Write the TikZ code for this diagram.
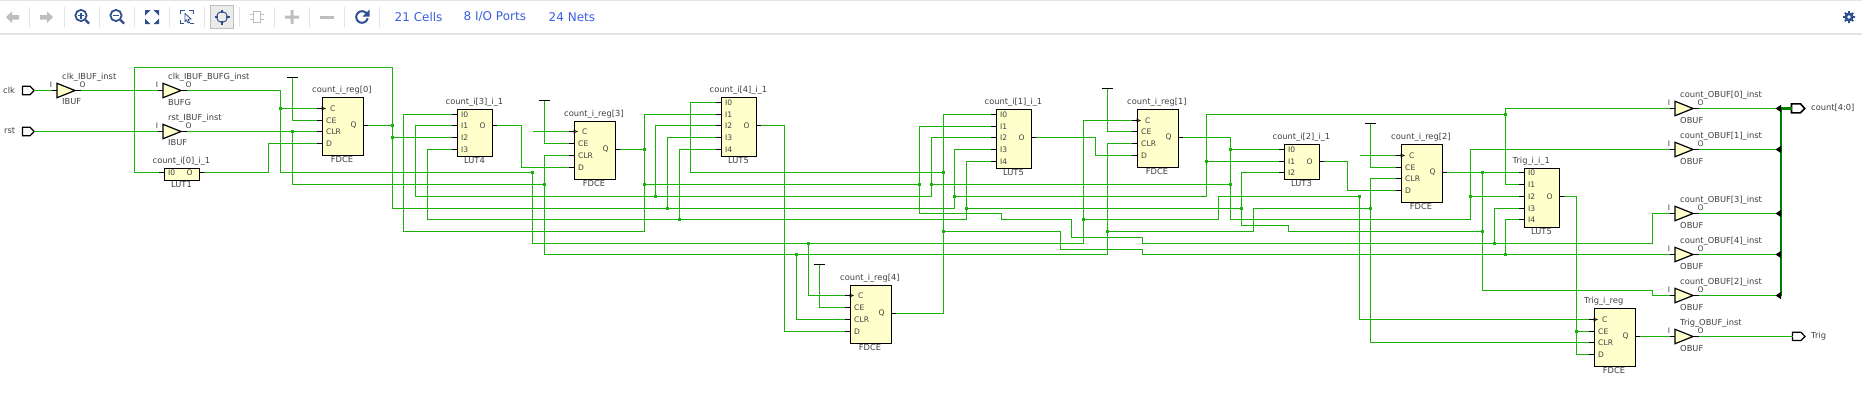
\documentclass[tikz,border=0pt]{standalone}
\usepackage{fontspec}
\setmainfont{DejaVu Sans}
\definecolor{wirecol}{RGB}{26,178,10}
\definecolor{buscol}{RGB}{0,128,0}
\definecolor{cellfill}{RGB}{255,255,204}
\definecolor{txtcol}{RGB}{64,64,64}
\definecolor{tbblue}{RGB}{47,79,143}
\definecolor{tbgray}{RGB}{190,190,190}
\definecolor{tbline}{RGB}{228,228,228}
\definecolor{tblink}{RGB}{59,95,224}
\tikzset{
  wire/.style={draw=wirecol,line width=1.25pt,line join=miter},
  stub/.style={draw=black,line width=1.2pt},
  cellbox/.style={draw=black,line width=1.2pt,fill=cellfill,rectangle,anchor=north west,inner sep=0pt},
  buftri/.style={draw=black,line width=1.2pt,fill=cellfill,line join=miter},
  lbl/.style={font=\fontsize{8.3}{10}\selectfont,text=txtcol,inner sep=0pt},
  lblw/.style={lbl,anchor=west},
  pinlbl/.style={font=\fontsize{7.6}{9}\selectfont,text=txtcol,inner sep=0pt},
  pinw/.style={pinlbl,anchor=west},
  tblnk/.style={font=\fontsize{12}{14}\selectfont,text=tblink,inner sep=0pt,anchor=west},
  tbsep/.style={draw=tbline,line width=1pt},
  tbdark/.style={draw=tbblue,line width=1.8pt},
}
% name, x, top, label, yC, yCE, yCLR, yD, yQ
\newcommand\ffcell[9]{%
  \node[cellbox,minimum width=41pt,minimum height=58pt] (#1) at (#2,#3) {};
  \node[lblw] (#1l) at (#2-9.5,#3-6.5) {#4};
  \node[lbl] (#1t) at (#2+20.5,#3+62.5) {FDCE};
  \coordinate (#1C) at (#2-5,#5);
  \coordinate (#1CE) at (#2-5,#6);
  \coordinate (#1CLR) at (#2-5,#7);
  \coordinate (#1D) at (#2-5,#8);
  \coordinate (#1Q) at (#2+46,#9);
  \draw[stub] (#1C) -- (#2,#5);
  \draw[stub] (#1CE) -- (#2,#6);
  \draw[stub] (#1CLR) -- (#2,#7);
  \draw[stub] (#1D) -- (#2,#8);
  \draw[stub] (#2+41,#9) -- (#1Q);
  \draw[draw=black,line width=.7pt] (#2,#5-1.6) -- (#2+3.5,#5) -- (#2,#5+1.6);
  \node[pinw] (#1pC) at (#2+8.5,#5) {C};
  \node[pinw] (#1pCE) at (#2+4.5,#6) {CE};
  \node[pinw] (#1pCLR) at (#2+4.5,#7) {CLR};
  \node[pinw] (#1pD) at (#2+4.5,#8) {D};
  \node[pinlbl] (#1pQ) at (#2+32,#9) {Q};
}
% name, x, top, height, label, type, pin ys, yO
\newcommand\lutcell[8]{%
  \node[cellbox,minimum width=35.5pt,minimum height=#4pt] (#1) at (#2,#3) {};
  \node[lblw] (#1l) at (#2-11,#3-6.5) {#5};
  \node[lbl] (#1t) at (#2+18,#3+#4+4.8) {#6};
  \foreach \yy [count=\ii from 0] in {#7} {
    \coordinate (#1I\ii) at (#2-5,\yy);
    \draw[stub] (#1I\ii) -- (#2,\yy);
    \node[pinw] (#1pI\ii) at (#2+4.5,\yy) {I\ii};
  }
  \coordinate (#1O) at (#2+40.5,#8);
  \draw[stub] (#2+35.5,#8) -- (#1O);
  \node[pinlbl] (#1pO) at (#2+26,#8) {O};
}
% name, x, y, inst label, type
\newcommand\bufcell[5]{%
  \draw[buftri] (#2,#3-7.2) -- (#2+18,#3) -- (#2,#3+7.2) -- cycle;
  \node[lblw] (#1l) at (#2+5,#3-13.5) {#4};
  \node[lblw] (#1t) at (#2+5,#3+11.5) {#5};
  \node[pinlbl] (#1pI) at (#2-6,#3-6) {I};
  \node[pinlbl] (#1pO) at (#2+25.5,#3-6) {O};
  \coordinate (#1I) at (#2-5,#3);
  \coordinate (#1O) at (#2+24,#3);
  \draw[stub] (#1I) -- (#2,#3);
  \draw[stub] (#2+18,#3) -- (#1O);
}
\newcommand\vccbar[3]{%
  \coordinate (#1) at (#2,#3);
  \draw[stub] (#2-5.5,#3) -- (#2+5.5,#3);
}
\begin{document}
\begin{tikzpicture}[x=1pt,y=-1pt]
\useasboundingbox (0,0) rectangle (1862,405);
\fill[white] (0,0) rectangle (1862,405);
% ---------- toolbar
\fill[tbline] (0,0) rectangle (1862,1);
\fill[tbline] (0,33) rectangle (1862,35);
\foreach \sx in {29.5,64.5,99.5,134.5,169.5,204.5,239.5,274.5,309.5,344.5,379.5}
  \draw[tbsep] (\sx,7) -- (\sx,27);
\fill[tbgray] (6,17) -- (12,11.5) -- (12,15) -- (19,15) -- (19,19.5) -- (12,19.5) -- (12,23) -- cycle;
\fill[tbgray] (53,17) -- (47,11.5) -- (47,15) -- (40,15) -- (40,19.5) -- (47,19.5) -- (47,23) -- cycle;
\draw[tbdark] (81,15.5) circle (5.6);
\draw[tbblue,line width=2.4pt] (85.5,20) -- (89,23.5);
\draw[tbblue,line width=1.2pt] (78,15.5) -- (84,15.5) (81,12.5) -- (81,18.5);
\draw[tbdark] (116,15.5) circle (5.6);
\draw[tbblue,line width=2.4pt] (120.5,20) -- (124,23.5);
\draw[tbblue,line width=1.2pt] (113,15.5) -- (119,15.5);
\fill[tbblue] (145,10) -- (150.5,10) -- (145,15.5) -- cycle
  (159,10) -- (153.5,10) -- (159,15.5) -- cycle
  (145,24) -- (150.5,24) -- (145,18.5) -- cycle
  (159,24) -- (153.5,24) -- (159,18.5) -- cycle;
\draw[tbblue,line width=1pt] (180.5,14) -- (180.5,10.5) -- (185,10.5) (189,10.5) -- (193.5,10.5) -- (193.5,14)
  (180.5,20) -- (180.5,23.5) -- (184,23.5) (190,23.5) -- (193.5,23.5);
\draw[tbblue,line width=.8pt,fill=white] (185,13.5) -- (191,19) -- (188,19.3) -- (189.5,22.5) -- (188,23) -- (186.5,20) -- (185,21.5) -- cycle;
\draw[draw=tbgray,line width=1pt,fill=black!8] (210.5,5.5) rectangle (233.5,28.5);
\draw[tbblue,line width=1pt] (222,17) circle (5.5);
\draw[tbblue,line width=1.3pt] (222,9.5) -- (222,13) (222,21) -- (222,24.5) (214.5,17) -- (218,17) (226,17) -- (229.5,17);
\draw[tbgray,line width=1.2pt] (253.5,11.5) rectangle (260.5,22.5);
\draw[tbgray,line width=1.6pt] (250,14.5) -- (253,14.5) (250,19.5) -- (253,19.5) (261,14.5) -- (264,14.5) (261,19.5) -- (264,19.5);
\fill[tbgray] (285,15.5) rectangle (299,18.5) (290.5,10) rectangle (293.5,24);
\fill[tbgray] (320,15.5) rectangle (334,18.5);
\draw[tbblue,line width=2pt] (362,17) circle (5.8);
\fill[white] (362,17) -- (372,19) -- (372,9) -- cycle;
\fill[tbblue] (369.5,9.5) -- (369.5,16.5) -- (362.5,16.5) -- cycle;
\node[tblnk] (tbcells) at (394.5,17) {21 Cells};
\node[tblnk] (tbports) at (463.5,17) {8 I/O Ports};
\node[tblnk] (tbnets) at (548.5,17) {24 Nets};
\draw[tbblue,line width=2.2pt] (1849,17) circle (3.4);
\draw[tbblue,line width=1.8pt] (1849,11) -- (1849,23) (1843,17) -- (1855,17) (1844.8,12.8) -- (1853.2,21.2) (1853.2,12.8) -- (1844.8,21.2);
\fill[white] (1849,17) circle (1.8);
% ---------- ports
\draw[stub] (22.5,86.2) -- (30,86.2) -- (34.3,90.5) -- (30,94.8) -- (22.5,94.8) -- cycle;
\coordinate (clkp) at (34.3,90.5);
\node[lblw] (clklbl) at (3,90) {clk};
\draw[stub] (22.5,127.2) -- (30,127.2) -- (34.3,131.5) -- (30,135.8) -- (22.5,135.8) -- cycle;
\coordinate (rstp) at (34.3,131.5);
\node[lblw] (rstlbl) at (4,131) {rst};
\draw[black,line width=1.6pt] (1791.5,103.8) -- (1800.5,103.8) -- (1804.7,108.5) -- (1800.5,112.8) -- (1791.5,112.8) -- cycle;
\coordinate (countp) at (1791.5,108.5);
\node[lblw] (countlbl) at (1811,108) {count[4:0]};
\draw[stub] (1792.5,332.2) -- (1801,332.2) -- (1805,336.5) -- (1801,340.5) -- (1792.5,340.5) -- cycle;
\coordinate (trigp) at (1792.5,336.5);
\node[lblw] (triglbl) at (1811,336) {Trig};
% ---------- cells
\bufcell{bi}{57}{90.5}{clk\_IBUF\_inst}{IBUF}
\bufcell{bg}{163}{90.5}{clk\_IBUF\_BUFG\_inst}{BUFG}
\bufcell{br}{163}{131.5}{rst\_IBUF\_inst}{IBUF}
\lutcell{la}{163.5}{167.5}{12.5}{count\_i[0]\_i\_1}{LUT1}{172.5}{172.5}
\ffcell{fa}{321.5}{96.5}{count\_i\_reg[0]}{108.5}{120.5}{131.5}{143.5}{125.5}
\lutcell{lb}{456.5}{108.5}{47}{count\_i[3]\_i\_1}{LUT4}{114.5,125.5,137.5,149.5}{125.5}
\ffcell{fb}{573.5}{120.5}{count\_i\_reg[3]}{131.5}{143.5}{155.5}{167.5}{149.5}
\lutcell{lc}{720.5}{96.5}{59}{count\_i[4]\_i\_1}{LUT5}{102.5,114.5,125.5,137.5,149.5}{125.5}
\ffcell{fc}{849.5}{284.5}{count\_i\_reg[4]}{295.5}{307.5}{319.5}{331.5}{313.5}
\lutcell{ld}{995.5}{108.5}{59}{count\_i[1]\_i\_1}{LUT5}{114.5,126.5,137.5,149.5,161.5}{137.5}
\ffcell{fd}{1136.5}{108.5}{count\_i\_reg[1]}{120.5}{131.5}{143.5}{155.5}{137.5}
\lutcell{le}{1283.5}{143.5}{35}{count\_i[2]\_i\_1}{LUT3}{149.5,161.5,172.5}{161.5}
\ffcell{fe}{1400.5}{143.5}{count\_i\_reg[2]}{155.5}{167.5}{178.5}{190.5}{172.5}
\lutcell{lf}{1523.5}{167.5}{59}{Trig\_i\_i\_1}{LUT5}{172.5,184.5,196.5,208.5,219.5}{196.5}
\ffcell{ff}{1593.5}{307.5}{Trig\_i\_reg}{319.5}{331.5}{342.5}{354.5}{336.5}
\bufcell{ob}{1675}{108.5}{count\_OBUF[0]\_inst}{OBUF}
\bufcell{oc}{1675}{149.5}{count\_OBUF[1]\_inst}{OBUF}
\bufcell{od}{1675}{213.5}{count\_OBUF[3]\_inst}{OBUF}
\bufcell{oe}{1675}{254.5}{count\_OBUF[4]\_inst}{OBUF}
\bufcell{of}{1675}{295.5}{count\_OBUF[2]\_inst}{OBUF}
\bufcell{og}{1675}{336.5}{Trig\_OBUF\_inst}{OBUF}
\vccbar{va}{292.5}{77.5}
\vccbar{vb}{544.5}{100.5}
\vccbar{vc}{819.5}{264.5}
\vccbar{vd}{1107.5}{88.5}
\vccbar{ve}{1370.5}{123.5}
% ---------- nets
% inputs
\draw[wire] (clkp) -- (biI);
\draw[wire] (biO) -- (bgI);
\draw[wire] (rstp) -- (brI);
% clock
\draw[wire] (bgO) -| (280.5,172.5) -| (532.5,243.5) -| (1083.5,120.5) -- (fdC);
\draw[wire] (280.5,108.5) -- (faC);
\draw[wire] (532.5,131.5) -- (fbC);
\draw[wire] (808.5,243.5) |- (fcC);
\draw[wire] (1083.5,219.5) -| (1218.5,196.5) -| (1359.5,319.5) -- (ffC);
\draw[wire] (1359.5,155.5) -- (feC);
% reset
\draw[wire] (brO) -- (faCLR);
\draw[wire] (292.5,131.5) |- (544.5,184.5);
\draw[wire] (fbCLR) -| (544.5,254.5) -| (1107.5,143.5) -- (fdCLR);
\draw[wire] (796.5,254.5) |- (fcCLR);
\draw[wire] (1107.5,231.5) -| (1253.5,208.5) -- (1370.5,208.5);
\draw[wire] (feCLR) -| (1370.5,342.5) -- (ffCLR);
% constants
\draw[wire] (va) |- (faCE);
\draw[wire] (vb) |- (fbCE);
\draw[wire] (vc) |- (fcCE);
\draw[wire] (vd) |- (fdCE);
\draw[wire] (ve) |- (feCE);
% count 0
\draw[wire] (faQ) -- (392.5,125.5);
\draw[wire] (laI0) -| (134.5,67.5) -| (392.5,208.5) -| (954.5,149.5) -- (ldI3);
\draw[wire] (392.5,137.5) -- (lbI2);
\draw[wire] (667.5,208.5) |- (lcI3);
\draw[wire] (954.5,196.5) -| (1206.5,114.5) -- (1505.5,114.5);
\draw[wire] (obI) -| (1505.5,184.5) -- (lfI1);
\draw[wire] (1206.5,161.5) -- (leI1);
% count 3
\draw[wire] (fbQ) -- (644.5,149.5);
\draw[wire] (lbI0) -| (403.5,231.5) -| (644.5,114.5) -- (lcI1);
\draw[wire] (644.5,184.5) -- (919.5,184.5);
\draw[wire] (ldI1) -| (919.5,213.5) -| (1001.5,219.5) -| (1071.5,237.5) -| (1142.5,243.5) -| (1652.5,213.5) -- (odI);
\draw[wire] (1494.5,243.5) |- (lfI3);
% count 1
\draw[wire] (fdQ) -| (1230.5,219.5) -| (1470.5,149.5) -- (ocI);
\draw[wire] (1230.5,149.5) -- (leI0);
\draw[wire] (1470.5,196.5) -- (lfI2);
\draw[wire] (lbI1) -| (415.5,196.5) -| (931.5,137.5) -- (ldI2);
\draw[wire] (655.5,196.5) |- (lcI2);
\draw[wire] (931.5,184.5) -- (1230.5,184.5);
% count 2
\draw[wire] (feQ) -- (lfI0);
\draw[wire] (1482.5,172.5) |- (1652.5,290.5) |- (ofI);
\draw[wire] (lbI3) -| (427.5,219.5) -| (966.5,161.5) -- (ldI4);
\draw[wire] (679.5,219.5) |- (lcI4);
\draw[wire] (966.5,208.5) -- (1241.5,208.5);
\draw[wire] (leI2) -| (1241.5,225.5) -| (1288.5,231.5) -- (1482.5,231.5);
% count 4
\draw[wire] (fcQ) -| (943.5,114.5) -- (ldI0);
\draw[wire] (lcI0) -| (690.5,172.5) -- (943.5,172.5);
\draw[wire] (943.5,231.5) -| (1060.5,249.5) -| (1142.5,254.5) -- (oeI);
\draw[wire] (1505.5,254.5) |- (lfI4);
% lut outputs
\draw[wire] (laO) -| (268.5,143.5) -- (faD);
\draw[wire] (lbO) -| (521.5,167.5) -- (fbD);
\draw[wire] (lcO) -| (784.5,331.5) -- (fcD);
\draw[wire] (ldO) -| (1095.5,155.5) -- (fdD);
\draw[wire] (leO) -| (1347.5,190.5) -- (feD);
\draw[wire] (lfO) -| (1576.5,354.5) -- (ffD);
\draw[wire] (1576.5,331.5) -- (ffCE);
% outputs
\draw[wire] (ffQ) -- (ogI);
\draw[wire] (ogO) -- (trigp);
\draw[buscol,line width=2.4pt] (countp) -| (1781,295.5);
\foreach \nn/\yy in {ob/108.5,oc/149.5,od/213.5,oe/254.5,of/295.5} {
  \coordinate (tip\nn) at (1775.5,\yy);
  \draw[wire] (\nn O) -- (tip\nn);
  \fill[black] (tip\nn) -- (1781,\yy-3.6) -- (1781,\yy+3.6) -- cycle;
}
% junctions
\foreach \px/\py in {280.5/108.5,292.5/131.5,392.5/125.5,392.5/137.5,532.5/172.5,544.5/184.5,644.5/149.5,644.5/184.5,
 655.5/196.5,667.5/208.5,679.5/219.5,808.5/243.5,796.5/254.5,919.5/184.5,931.5/184.5,943.5/172.5,943.5/231.5,
 954.5/196.5,966.5/208.5,1083.5/219.5,1107.5/231.5,1206.5/161.5,1230.5/149.5,1230.5/184.5,1241.5/208.5,
 1359.5/196.5,1370.5/208.5,1470.5/196.5,1482.5/172.5,1482.5/231.5,1494.5/243.5,1505.5/114.5,1505.5/254.5,1576.5/331.5}
  \fill[wirecol] (\px-1.8,\py-1.8) rectangle (\px+1.8,\py+1.8);
\end{tikzpicture}
\end{document}
